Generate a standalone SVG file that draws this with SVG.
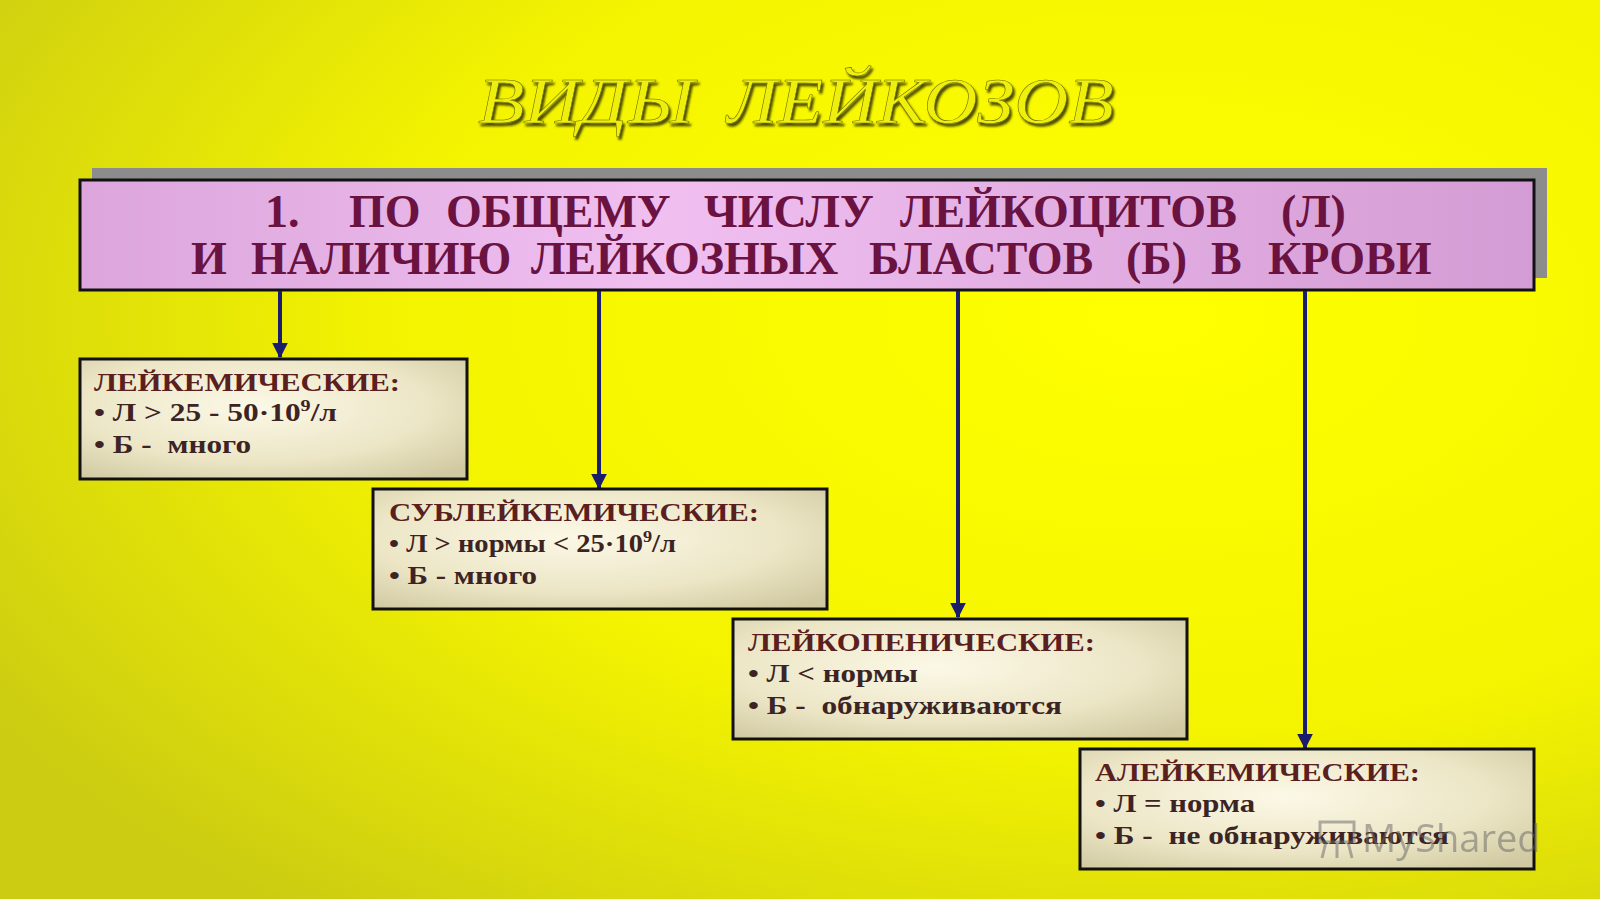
<svg xmlns="http://www.w3.org/2000/svg" width="1600" height="899" viewBox="0 0 1600 899">
<defs>
<radialGradient id="bg" cx="0.72" cy="0.35" r="0.85">
<stop offset="0" stop-color="#ffff00"/>
<stop offset="0.55" stop-color="#f4f400"/>
<stop offset="1" stop-color="#cccc12"/>
</radialGradient>
<linearGradient id="hdr" x1="0" y1="0" x2="1" y2="0">
<stop offset="0" stop-color="#dca6dc"/>
<stop offset="0.4" stop-color="#f0bff0"/>
<stop offset="1" stop-color="#d49cd4"/>
</linearGradient>
<radialGradient id="box" cx="0.45" cy="0.4" r="0.75">
<stop offset="0" stop-color="#fbf8e6"/>
<stop offset="0.6" stop-color="#ece6c6"/>
<stop offset="1" stop-color="#cfc8a0"/>
</radialGradient>
<filter id="emb" x="-5%" y="-20%" width="110%" height="140%">
<feDropShadow dx="2" dy="3" stdDeviation="1" flood-color="#3a3a00" flood-opacity="0.9"/>
</filter>
<marker id="arr" viewBox="0 0 10 10" refX="9" refY="5" markerWidth="4" markerHeight="4" orient="auto" markerUnits="strokeWidth">
<path d="M0,0 L10,5 L0,10 z" fill="#1c1c6c"/>
</marker>
</defs>
<style>
.title{font-family:"Liberation Serif",serif;font-style:italic;font-size:66px;fill:#efef10;stroke:#6a6a00;stroke-width:0.5;filter:url(#emb);}
.hd{font-family:"Liberation Serif",serif;font-weight:bold;font-size:46px;fill:#6a1240;}
.bx{fill:url(#box);stroke:#111;stroke-width:3;}
.bt{font-family:"Liberation Serif",serif;font-weight:bold;font-size:25px;fill:#5a2020;}
.bl{font-family:"Liberation Serif",serif;font-weight:bold;font-size:25px;fill:#3c2424;}
.con{stroke:#1c1c6c;stroke-width:4;fill:none;marker-end:url(#arr);}
</style>
<rect x="0" y="0" width="1600" height="899" fill="url(#bg)"/>

<g id="title">
<text class="title" x="478" y="123" textLength="216" lengthAdjust="spacingAndGlyphs">ВИДЫ</text>
<text class="title" x="727" y="123" textLength="387" lengthAdjust="spacingAndGlyphs">ЛЕЙКОЗОВ</text>
</g>

<g id="header">
<rect x="92" y="168" width="1455" height="110" fill="#8c8c8c"/>
<rect x="80" y="180" width="1454" height="110" fill="url(#hdr)" stroke="#111" stroke-width="3"/>
<text class="hd" y="227"><tspan x="265">1.</tspan><tspan x="349">ПО</tspan><tspan x="446">ОБЩЕМУ</tspan><tspan x="704">ЧИСЛУ</tspan><tspan x="900">ЛЕЙКОЦИТОВ</tspan><tspan x="1281">(Л)</tspan></text>
<text class="hd" y="274"><tspan x="191">И</tspan><tspan x="251">НАЛИЧИЮ</tspan><tspan x="531">ЛЕЙКОЗНЫХ</tspan><tspan x="869">БЛАСТОВ</tspan><tspan x="1126">(Б)</tspan><tspan x="1211">В</tspan><tspan x="1268">КРОВИ</tspan></text>
</g>

<g id="connectors">
<line class="con" x1="280" y1="291" x2="280" y2="357"/>
<line class="con" x1="599" y1="291" x2="599" y2="488"/>
<line class="con" x1="958" y1="291" x2="958" y2="617"/>
<line class="con" x1="1305" y1="291" x2="1305" y2="748"/>
</g>

<g id="box1">
<rect class="bx" x="80" y="359" width="387" height="120"/>
<text class="bt" x="94" y="391" textLength="306" lengthAdjust="spacingAndGlyphs">ЛЕЙКЕМИЧЕСКИЕ:</text>
<text class="bl" x="94" y="421" textLength="243" lengthAdjust="spacingAndGlyphs">• Л &gt; 25 - 50·10<tspan font-size="16" dy="-10">9</tspan><tspan dy="10">/л</tspan></text>
<text class="bl" x="94" y="453" xml:space="preserve" textLength="157" lengthAdjust="spacingAndGlyphs">• Б -  много</text>
</g>

<g id="box2">
<rect class="bx" x="373" y="489" width="454" height="120"/>
<text class="bt" x="389" y="521" textLength="370" lengthAdjust="spacingAndGlyphs">СУБЛЕЙКЕМИЧЕСКИЕ:</text>
<text class="bl" x="389" y="552" textLength="287" lengthAdjust="spacingAndGlyphs">• Л &gt; нормы &lt; 25·10<tspan font-size="16" dy="-10">9</tspan><tspan dy="10">/л</tspan></text>
<text class="bl" x="389" y="584" textLength="148" lengthAdjust="spacingAndGlyphs">• Б - много</text>
</g>

<g id="box3">
<rect class="bx" x="733" y="619" width="454" height="120"/>
<text class="bt" x="748" y="651" textLength="347" lengthAdjust="spacingAndGlyphs">ЛЕЙКОПЕНИЧЕСКИЕ:</text>
<text class="bl" x="748" y="682" textLength="170" lengthAdjust="spacingAndGlyphs">• Л &lt; нормы</text>
<text class="bl" x="748" y="714" xml:space="preserve" textLength="314" lengthAdjust="spacingAndGlyphs">• Б -  обнаруживаются</text>
</g>

<g id="box4">
<rect class="bx" x="1080" y="749" width="454" height="120"/>
<text class="bt" x="1095" y="781" textLength="325" lengthAdjust="spacingAndGlyphs">АЛЕЙКЕМИЧЕСКИЕ:</text>
<text class="bl" x="1095" y="812" textLength="160" lengthAdjust="spacingAndGlyphs">• Л = норма</text>
<text class="bl" x="1095" y="844" xml:space="preserve" textLength="354" lengthAdjust="spacingAndGlyphs">• Б -  не обнаруживаются</text>
</g>

<g id="watermark" opacity="0.5" fill="none" stroke="#666" stroke-width="3">
<rect x="1320" y="822" width="34" height="20"/>
<line x1="1326" y1="842" x2="1322" y2="858"/>
<line x1="1337" y1="842" x2="1337" y2="858"/>
<line x1="1348" y1="842" x2="1352" y2="858"/>
<text x="1362" y="852" font-family="'Open Sans',sans-serif" font-size="38" fill="#666" stroke="none">MyShared</text>
</g>
</svg>
